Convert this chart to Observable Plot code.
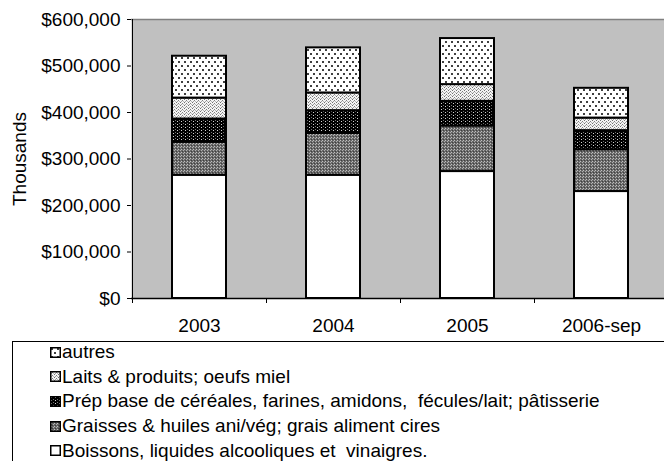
<!DOCTYPE html>
<html><head><meta charset="utf-8">
<script src="https://cdn.jsdelivr.net/npm/d3@7"></script>
<script src="https://cdn.jsdelivr.net/npm/@observablehq/plot@0.6"></script>
<style>
html,body{margin:0;padding:0;background:#fff;}
body{font-family:"Liberation Sans",Arial,sans-serif;width:664px;height:461px;overflow:hidden;position:relative;}
#chart{position:absolute;left:0;top:0;}
#legend{position:absolute;left:12px;top:341px;width:700px;height:140px;border:1px solid #000;box-sizing:border-box;}
.sw{position:absolute;left:37px;width:11px;height:11px;}
.item{position:absolute;left:49px;font-size:19px;white-space:pre;line-height:20px;color:#000;}
</style></head><body>
<svg width="0" height="0" style="position:absolute;left:0;top:0">
<defs>
<pattern id="pAutres" patternUnits="userSpaceOnUse" width="6" height="8" shape-rendering="crispEdges">
  <rect width="6" height="8" fill="#fff"/>
  <rect x="1" y="1" width="1.5" height="1.5" fill="#404040"/>
  <rect x="4" y="5" width="1.5" height="1.5" fill="#404040"/>
</pattern>
<pattern id="pLaits" patternUnits="userSpaceOnUse" width="4" height="3" shape-rendering="crispEdges">
  <rect width="4" height="3" fill="#f4f4f4"/>
  <rect x="0" y="0" width="1" height="1" fill="#707070"/>
  <rect x="2" y="1" width="1" height="1" fill="#808080"/>
  <rect x="1" y="2" width="1" height="1" fill="#a0a0a0"/>
  <rect x="3" y="2" width="1" height="1" fill="#b8b8b8"/>
</pattern>
<pattern id="pPrep" patternUnits="userSpaceOnUse" width="4" height="3" shape-rendering="crispEdges">
  <rect width="4" height="3" fill="#000"/>
  <rect x="1" y="1" width="1" height="1" fill="#d0d0d0"/>
  <rect x="3" y="0" width="1" height="1" fill="#707070"/>
</pattern>
<pattern id="pGraisses" patternUnits="userSpaceOnUse" width="3" height="3" shape-rendering="crispEdges">
  <rect width="3" height="3" fill="#686868"/>
  <rect x="0" y="0" width="1" height="1" fill="#b0b0b0"/>
  <rect x="2" y="1" width="1" height="1" fill="#404040"/>
  <rect x="1" y="2" width="1" height="1" fill="#c0c0c0"/>
</pattern>
</defs>
</svg>
<div id="chart"></div>
<div id="legend"></div>
<script>
// ---- data ----
const years = ["2003", "2004", "2005", "2006-sep"];
const seriesNames = [
  "Boissons, liquides alcooliques et  vinaigres.",
  "Graisses & huiles ani/vég; grais aliment cires",
  "Prép base de céréales, farines, amidons,  fécules/lait; pâtisserie",
  "Laits & produits; oeufs miel",
  "autres"
];
const boissons = [265000, 265000, 273000, 230000];
const graisses = [71000, 90000, 98000, 90000];
const prep     = [50000, 49000, 53000, 41000];
const laits    = [45000, 38000, 36000, 27000];
const autres   = [90000, 97000, 99000, 64000];
const yTicks = [0, 100000, 200000, 300000, 400000, 500000, 600000];

const seriesValues = [boissons, graisses, prep, laits, autres];
const fills = ["#ffffff", "url(#pGraisses)", "url(#pPrep)", "url(#pLaits)", "url(#pAutres)"];
const data = years.flatMap((yr, i) =>
  seriesNames.map((s, j) => ({year: yr, series: s, value: seriesValues[j][i]})));

const fmt = d => "$" + d3.format(",")(d);
const halfStep = (668 - 132) / years.length / 2;

const chart = Plot.plot({
  width: 664, height: 340,
  marginLeft: 131, marginTop: 19, marginRight: 0, marginBottom: 42,
  style: {fontFamily: "'Liberation Sans', Arial, sans-serif", fontSize: "19px", color: "#000", background: "transparent", overflow: "visible"},
  x: {domain: years, range: [132, 668], paddingInner: 0.597, paddingOuter: 0.2985, label: null},
  y: {domain: [0, 600000], label: "Thousands"},
  color: {type: "ordinal", domain: seriesNames, range: fills},
  marks: [
    Plot.frame({fill: "#c0c0c0", stroke: "none"}),
    Plot.ruleY([600000], {stroke: "#808080", strokeWidth: 1.5}),
    Plot.barY(data, {x: "year", y: "value", z: "series", fill: "series", order: seriesNames, stroke: "#000", strokeWidth: 2}),
    Plot.ruleY([0], {stroke: "#000", strokeWidth: 1.5}),
    Plot.ruleX([years[0]], {dx: -halfStep, stroke: "#000", strokeWidth: 1}),
    Plot.ruleX(years, {dx: halfStep, y1: 0, y2: 0, insetBottom: -5, stroke: "#000", strokeWidth: 1}),
    Plot.ruleX([years[0]], {dx: -halfStep, y1: 0, y2: 0, insetBottom: -5, stroke: "#000", strokeWidth: 1}),
    Plot.axisY({ticks: yTicks, tickFormat: fmt, tickSize: 4, tickPadding: 7, label: "Thousands", labelAnchor: "center", labelArrow: "none", labelOffset: 119, fontSize: 19}),
    Plot.axisX({tickSize: 0, tickPadding: 20, fontSize: 19, label: null})
  ]
});
document.getElementById("chart").appendChild(chart);

// ---- legend (top entry first) ----
const legend = document.getElementById("legend");
const legendOrder = [4, 3, 2, 1, 0];
legendOrder.forEach((j, k) => {
  const center = 10 + k * 24.7;   // relative to legend content top
  const sw = document.createElementNS("http://www.w3.org/2000/svg", "svg");
  sw.setAttribute("class", "sw");
  sw.setAttribute("width", 11); sw.setAttribute("height", 11);
  sw.style.top = (center - 5.5) + "px";
  sw.innerHTML = `<rect x="0.75" y="0.75" width="9.5" height="9.5" fill="${fills[j]}" stroke="#000" stroke-width="1.5"/>`;
  legend.appendChild(sw);
  const t = document.createElement("div");
  t.className = "item";
  t.style.top = (center - 10) + "px";
  t.textContent = seriesNames[j];
  legend.appendChild(t);
});
</script>
</body></html>
